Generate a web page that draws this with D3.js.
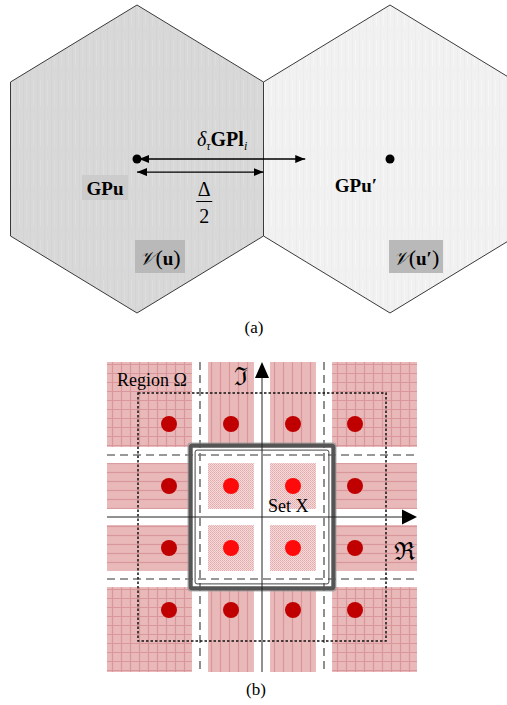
<!DOCTYPE html>
<html><head><meta charset="utf-8">
<script src="https://cdn.jsdelivr.net/npm/d3@7"></script>
<style>html,body{margin:0;padding:0;background:#fff;} svg{display:block;}</style>
</head><body><svg id="fig" width="507" height="705"></svg>
<script>
// ---- Panel (a): two neighbouring Voronoi cells, x in units of the spacing Δ ----
const cellCenters = [0, 1];                       // GPu, GPu′
const hexVertices = [[0,1],[0.5,0.5],[0.5,-0.5],[0,-1],[-0.5,-0.5],[-0.5,0.5]];
const cellFills = ["#d8d8d8", "#f1f1f1"];
const cellNames = ["u", "u′"];
const pointNames = ["GPu", "GPu′"];
const deltaTauReach = 0.665;                      // length of δτ·GPl_i in Δ
const halfDelta = 0.5;                            // Δ/2

// ---- Panel (b): 4x4 constellation and its regions ----
const lattice = [-1.5, -0.5, 0.5, 1.5];
const bands = [[-2.5, -1.13], [-0.87, -0.13], [0.13, 0.87], [1.13, 2.5]];
const decisionLines = [-1, 1];
const regionOmega = 2;
const setX = 1.2;

const svg = d3.select("#fig");
const defs = svg.append("defs");
const serif = "Liberation Serif, Times New Roman, serif";

// ---------- panel (a) ----------
const xa = d3.scaleLinear().domain([0, 1]).range([137, 390]);
const ya = d3.scaleLinear().domain([-1, 1]).range([313, 5]);

// faint vertical streak texture for the cells
cellFills.forEach((c, i) => {
  const p = defs.append("pattern").attr("id", "streak" + i)
    .attr("patternUnits", "userSpaceOnUse").attr("width", 7).attr("height", 40);
  p.append("rect").attr("width", 7).attr("height", 40).attr("fill", c);
  p.append("rect").attr("x", 2).attr("width", 1).attr("height", 40)
    .attr("fill", d3.color(c).darker(0.05));
  p.append("rect").attr("x", 5).attr("width", 1).attr("height", 26)
    .attr("fill", d3.color(c).brighter(0.06));
});

const hexLine = d3.line();
svg.append("g").selectAll("path").data(cellCenters).join("path")
  .attr("d", (c) => hexLine(hexVertices.map(([dx, dy]) => [xa(c + dx), ya(dy)])) + "Z")
  .attr("fill", (c, i) => `url(#streak${i})`)
  .attr("stroke", "#3a3a3a").attr("stroke-width", 1);

// arrowheads
defs.append("marker").attr("id", "ah").attr("viewBox", "0 0 10 8")
  .attr("refX", 10).attr("refY", 4).attr("markerWidth", 10).attr("markerHeight", 8)
  .attr("markerUnits", "userSpaceOnUse").attr("orient", "auto-start-reverse")
  .append("path").attr("d", "M0,0 L10,4 L0,8 Z").attr("fill", "#000");

const yTop = ya(0), yLow = ya(-0.085);
svg.append("line").attr("x1", xa(0) + 2).attr("x2", xa(deltaTauReach))
  .attr("y1", yTop).attr("y2", yTop).attr("stroke", "#000").attr("stroke-width", 1.3)
  .attr("marker-start", "url(#ah)").attr("marker-end", "url(#ah)");
svg.append("line").attr("x1", xa(0)).attr("x2", xa(halfDelta))
  .attr("y1", yLow).attr("y2", yLow).attr("stroke", "#000").attr("stroke-width", 1.3)
  .attr("marker-start", "url(#ah)").attr("marker-end", "url(#ah)");

svg.append("g").selectAll("circle").data(cellCenters).join("circle")
  .attr("cx", (c) => xa(c)).attr("cy", yTop).attr("r", 4.5).attr("fill", "#000");

// δτ GPl_i
const dt = svg.append("text").attr("x", xa(deltaTauReach / 2) + 1).attr("y", 146)
  .attr("text-anchor", "middle").style("font-family", serif).attr("font-size", 20);
dt.append("tspan").attr("font-style", "italic").text("δ");
dt.append("tspan").attr("font-style", "italic").attr("font-size", 12).attr("dy", 4).text("τ");
dt.append("tspan").attr("font-weight", "bold").attr("dy", -4).text("GPl");
dt.append("tspan").attr("font-style", "italic").attr("font-size", 12).attr("dy", 4).text("i");

// Δ / 2
const fx = xa(halfDelta / 2) + 4;
svg.append("text").attr("x", fx).attr("y", 196).attr("text-anchor", "middle")
  .style("font-family", serif).attr("font-size", 20).text("Δ");
svg.append("line").attr("x1", fx - 8).attr("x2", fx + 8).attr("y1", 201.5).attr("y2", 201.5)
  .attr("stroke", "#000").attr("stroke-width", 1);
svg.append("text").attr("x", fx).attr("y", 223).attr("text-anchor", "middle")
  .style("font-family", serif).attr("font-size", 20).text("2");

// GPu labels
svg.append("rect").attr("x", xa(0) - 55).attr("y", 175).attr("width", 46).attr("height", 25)
  .attr("fill", "#cccccc");
svg.append("g").selectAll("text").data(cellCenters).join("text")
  .attr("x", (c, i) => i === 0 ? xa(c) - 32 : xa(c) - 34).attr("y", (c, i) => i === 0 ? 195 : 192)
  .attr("text-anchor", "middle").style("font-family", serif).attr("font-weight", "bold")
  .attr("font-size", 19).text((c, i) => pointNames[i]);

// 𝒱(u) labels
const vl = svg.append("g").selectAll("g").data(cellCenters).join("g");
vl.append("rect").attr("x", (c, i) => xa(c) - 2 + (i ? 1 : 0)).attr("y", 240)
  .attr("width", (c, i) => i ? 54 : 50).attr("height", 33).attr("fill", "#b9b9b9");
const vt = vl.append("text").attr("x", (c, i) => xa(c) - 2 + (i ? 28 : 25)).attr("y", 265)
  .attr("text-anchor", "middle").style("font-family", serif).attr("font-size", 22);
vt.append("tspan").style("font-family", "DejaVu Serif, serif").attr("font-style", "italic").attr("font-size", 19).text("𝒱");
vt.append("tspan").text("(");
vt.append("tspan").attr("font-weight", "bold").attr("font-size", 19).text((c, i) => cellNames[i]);
vt.append("tspan").text(")");

svg.append("text").attr("x", 254).attr("y", 333).attr("text-anchor", "middle")
  .style("font-family", serif).attr("font-size", 17).text("(a)");

// ---------- panel (b) ----------
const xb = d3.scaleLinear().domain([-2.5, 2.5]).range([107, 417]);
const yb = d3.scaleLinear().domain([-2.5, 2.5]).range([672, 362]);

const pink = "#e9b9b9", pinkLine = "#d9969b";
function linePattern(id, d) {
  const p = defs.append("pattern").attr("id", id).attr("patternUnits", "userSpaceOnUse")
    .attr("width", 9).attr("height", 9);
  p.append("rect").attr("width", 9).attr("height", 9).attr("fill", pink);
  p.append("path").attr("d", d).attr("stroke", pinkLine).attr("stroke-width", 1.2);
}
linePattern("grid", "M0,4.5H9M4.5,0V9");
linePattern("vlines", "M4.5,0V9");
linePattern("hlines", "M0,4.5H9");
{
  const p = defs.append("pattern").attr("id", "stipple").attr("patternUnits", "userSpaceOnUse")
    .attr("width", 2).attr("height", 2);
  p.append("rect").attr("width", 2).attr("height", 2).attr("fill", "#f5dada");
  p.append("rect").attr("width", 1).attr("height", 1).attr("fill", "#e2a9ab");
  p.append("rect").attr("x", 1).attr("y", 1).attr("width", 1).attr("height", 1).attr("fill", "#e8b6b8");
}

const cells = [];
lattice.forEach((lx, i) => lattice.forEach((ly, j) => cells.push({ i, j, lx, ly })));
const outer = (k) => k === 0 || k === 3;
const kindOf = (c) => outer(c.i) && outer(c.j) ? "grid" : outer(c.i) ? "hlines" : outer(c.j) ? "vlines" : "stipple";

svg.append("g").selectAll("rect").data(cells).join("rect")
  .attr("x", (c) => xb(bands[c.i][0])).attr("width", (c) => xb(bands[c.i][1]) - xb(bands[c.i][0]))
  .attr("y", (c) => yb(bands[3 - c.j][1])).attr("height", (c) => yb(bands[3 - c.j][0]) - yb(bands[3 - c.j][1]))
  .attr("fill", (c) => `url(#${kindOf(c)})`);

svg.append("g").selectAll("circle").data(cells).join("circle")
  .attr("cx", (c) => xb(c.lx)).attr("cy", (c) => yb(c.ly)).attr("r", 8)
  .attr("fill", (c) => kindOf(c) === "stipple" ? "#ff0a0a" : "#c00000");

// decision boundaries (dashed)
svg.append("g").selectAll("line").data(decisionLines).join("line")
  .attr("x1", (d) => xb(d)).attr("x2", (d) => xb(d)).attr("y1", yb(2.5)).attr("y2", yb(-2.5))
  .attr("stroke", "#333").attr("stroke-width", 1.1).attr("stroke-dasharray", "8,5");
svg.append("g").selectAll("line").data(decisionLines).join("line")
  .attr("y1", (d) => yb(d)).attr("y2", (d) => yb(d)).attr("x1", xb(-2.5)).attr("x2", xb(2.5))
  .attr("stroke", "#777").attr("stroke-width", 1.3).attr("stroke-dasharray", "8,5");

// Region Ω (dotted)
svg.append("rect").attr("x", xb(-regionOmega)).attr("y", yb(regionOmega))
  .attr("width", xb(regionOmega) - xb(-regionOmega)).attr("height", yb(-regionOmega) - yb(regionOmega))
  .attr("fill", "none").attr("stroke", "#111").attr("stroke-width", 1.5).attr("stroke-dasharray", "2.5,2");

// Set X (heavy double frame)
const sx = (off) => ({ x: xb(-setX) + off, y: yb(setX) + off, w: xb(setX) - xb(-setX) - 2 * off, h: yb(-setX) - yb(setX) - 2 * off });
[[0.5, "#9a9a9a", 1], [3, "#555", 4.2], [7.5, "#444", 1]].forEach(([off, col, w]) => {
  const r = sx(off);
  svg.append("rect").attr("x", r.x).attr("y", r.y).attr("width", r.w).attr("height", r.h)
    .attr("rx", 2).attr("fill", "none").attr("stroke", col).attr("stroke-width", w);
});

// axes
svg.append("line").attr("x1", xb(0)).attr("x2", xb(0)).attr("y1", yb(2.3)).attr("y2", yb(-2.5))
  .attr("stroke", "#222").attr("stroke-width", 1);
svg.append("line").attr("x1", xb(-2.5)).attr("x2", xb(2.3)).attr("y1", yb(0)).attr("y2", yb(0))
  .attr("stroke", "#222").attr("stroke-width", 1);
svg.append("path").attr("d", `M${xb(0)},${yb(2.5)}L${xb(0) - 7},${yb(2.5) + 16}L${xb(0) + 7},${yb(2.5) + 16}Z`).attr("fill", "#000");
svg.append("path").attr("d", `M${xb(2.5)},${yb(0)}L${xb(2.5) - 15},${yb(0) - 7.5}L${xb(2.5) - 15},${yb(0) + 7.5}Z`).attr("fill", "#000");

// labels
svg.append("text").attr("x", 117).attr("y", 386).style("font-family", serif).attr("font-size", 18).text("Region Ω");
svg.append("text").attr("x", 268).attr("y", 512).style("font-family", serif).attr("font-size", 18).text("Set X");
svg.append("text").attr("x", 241).attr("y", 385).attr("text-anchor", "middle")
  .style("font-family", "DejaVu Serif, serif").attr("font-size", 25).text("ℑ");
svg.append("text").attr("x", 404).attr("y", 560).attr("text-anchor", "middle")
  .style("font-family", "DejaVu Serif, serif").attr("font-size", 25).text("ℜ");
svg.append("text").attr("x", 256).attr("y", 695).attr("text-anchor", "middle")
  .style("font-family", serif).attr("font-size", 17).text("(b)");
</script></body></html>
